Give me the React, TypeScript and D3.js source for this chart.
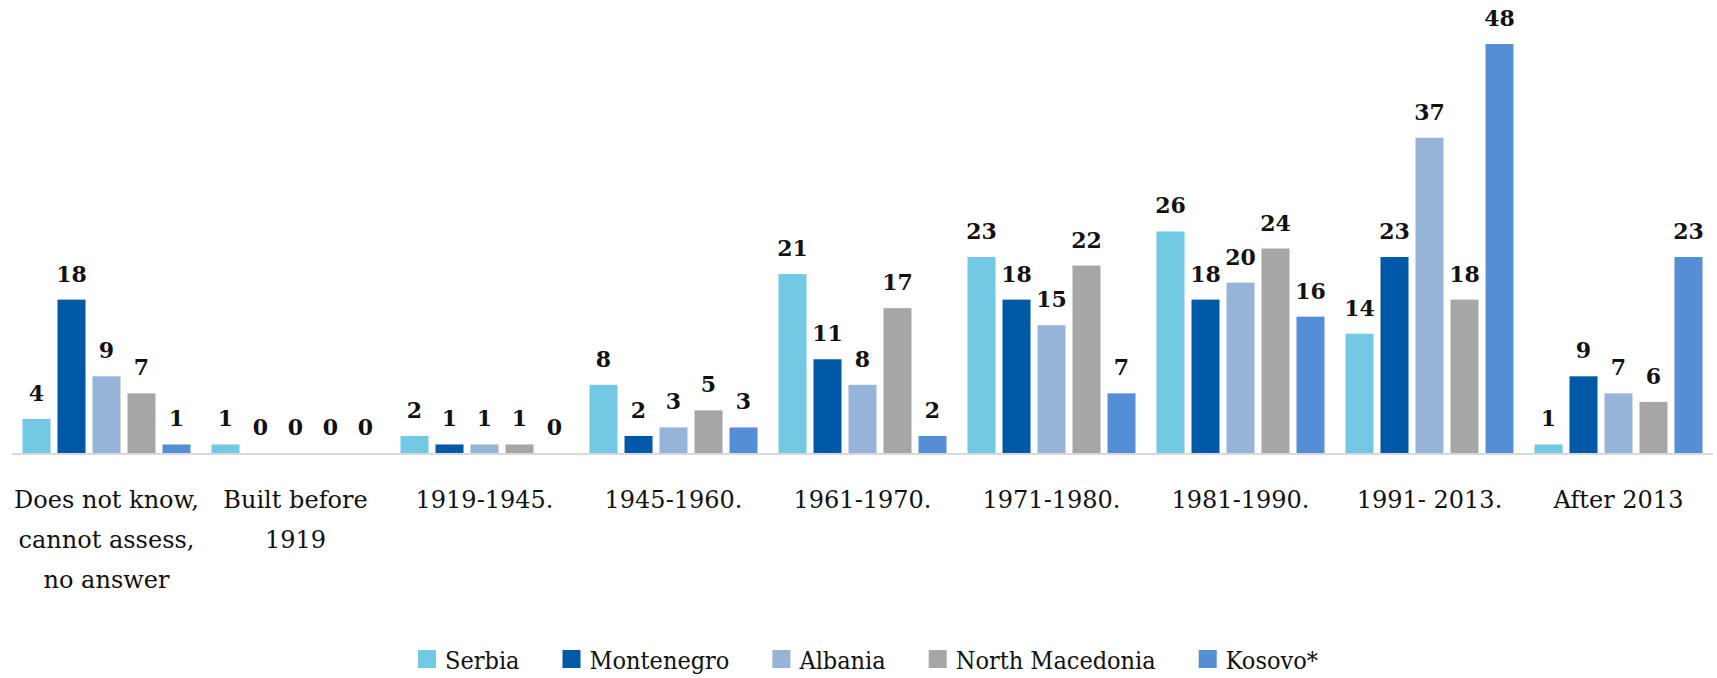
import React, { useEffect, useRef } from "react";
import * as d3 from "d3";

const categories = [
  "Does not know,\ncannot assess,\nno answer",
  "Built before\n1919",
  "1919-1945.",
  "1945-1960.",
  "1961-1970.",
  "1971-1980.",
  "1981-1990.",
  "1991- 2013.",
  "After 2013",
];
const seriesNames = ["Serbia", "Montenegro", "Albania", "North Macedonia", "Kosovo*"];
const seriesColors = ["#73C8E4", "#0059A6", "#96B4D8", "#A6A6A6", "#568ED5"];
const serbia = [4, 1, 2, 8, 21, 23, 26, 14, 1];
const montenegro = [18, 0, 1, 2, 11, 18, 18, 23, 9];
const albania = [9, 0, 1, 3, 8, 15, 20, 37, 7];
const northMacedonia = [7, 0, 1, 5, 17, 22, 24, 18, 6];
const kosovo = [1, 0, 0, 3, 2, 7, 16, 48, 23];
const seriesValues = [serbia, montenegro, albania, northMacedonia, kosovo];

const W = 1717;
const H = 678;

export default function App() {
  const ref = useRef<SVGSVGElement | null>(null);

  useEffect(() => {
    const svg = d3.select(ref.current);
    svg.selectAll("*").remove();

    const x0 = d3.scaleBand<string>().domain(categories).range([12, 1713]).paddingInner(0).paddingOuter(0);
    const x1 = d3.scaleBand<string>().domain(seriesNames).range([0, x0.bandwidth()]).paddingInner(0.2).paddingOuter(0.3);
    const y = d3.scaleLinear().domain([0, 48]).range([453, 44]);

    const groups = svg
      .selectAll("g.grp")
      .data(categories)
      .enter()
      .append("g")
      .attr("class", "grp")
      .attr("transform", (d) => `translate(${x0(d)},0)`);

    seriesNames.forEach((name, si) => {
      groups
        .append("rect")
        .attr("x", x1(name)!)
        .attr("width", x1.bandwidth())
        .attr("y", (_d, i) => y(seriesValues[si][i]))
        .attr("height", (_d, i) => y(0) - y(seriesValues[si][i]))
        .attr("fill", seriesColors[si]);
      groups
        .append("text")
        .attr("x", x1(name)! + x1.bandwidth() / 2)
        .attr("y", (_d, i) => y(seriesValues[si][i]) - 18)
        .attr("text-anchor", "middle")
        .attr("font-family", "'DejaVu Serif', serif")
        .attr("font-weight", "bold")
        .attr("font-size", 22)
        .attr("fill", "#111")
        .text((_d, i) => String(seriesValues[si][i]));
    });

    // axis line
    svg
      .append("line")
      .attr("x1", x0.range()[0])
      .attr("x2", x0.range()[1])
      .attr("y1", y(0) + 1)
      .attr("y2", y(0) + 1)
      .attr("stroke", "#D9D9D9")
      .attr("stroke-width", 2);

    // category labels
    const catText = svg
      .selectAll("text.cat")
      .data(categories)
      .enter()
      .append("text")
      .attr("class", "cat")
      .attr("text-anchor", "middle")
      .attr("font-family", "'DejaVu Serif', serif")
      .attr("font-size", 24)
      .attr("fill", "#111");
    catText.each(function (d) {
      const lines = d.split("\n");
      const t = d3.select(this);
      lines.forEach((ln, li) => {
        t.append("tspan")
          .attr("x", x0(d)! + x0.bandwidth() / 2)
          .attr("y", 508 + li * 40)
          .text(ln);
      });
    });

    // legend
    const leg = svg.append("g");
    const sq = 18;
    const gapText = 9;
    const gapItem = 43;
    let cx = 0;
    seriesNames.forEach((name, si) => {
      const g = leg.append("g").attr("transform", `translate(${cx},0)`);
      g.append("rect").attr("x", 0).attr("y", 650).attr("width", sq).attr("height", sq).attr("fill", seriesColors[si]);
      const t = g
        .append("text")
        .attr("x", sq + gapText)
        .attr("y", 669)
        .attr("font-family", "'DejaVu Serif Condensed', 'DejaVu Serif', serif")
        .style("font-stretch", "condensed")
        .attr("font-size", 25)
        .attr("fill", "#111")
        .text(name);
      const w = (t.node() as SVGTextElement).getComputedTextLength();
      cx += sq + gapText + w + gapItem;
    });
    const total = cx - gapItem;
    leg.attr("transform", `translate(${868 - total / 2},0)`);
  }, []);

  return (
    <svg
      ref={ref}
      width={W}
      height={H}
      style={{ position: "absolute", left: 0, top: 0, background: "#fff" }}
    />
  );
}
